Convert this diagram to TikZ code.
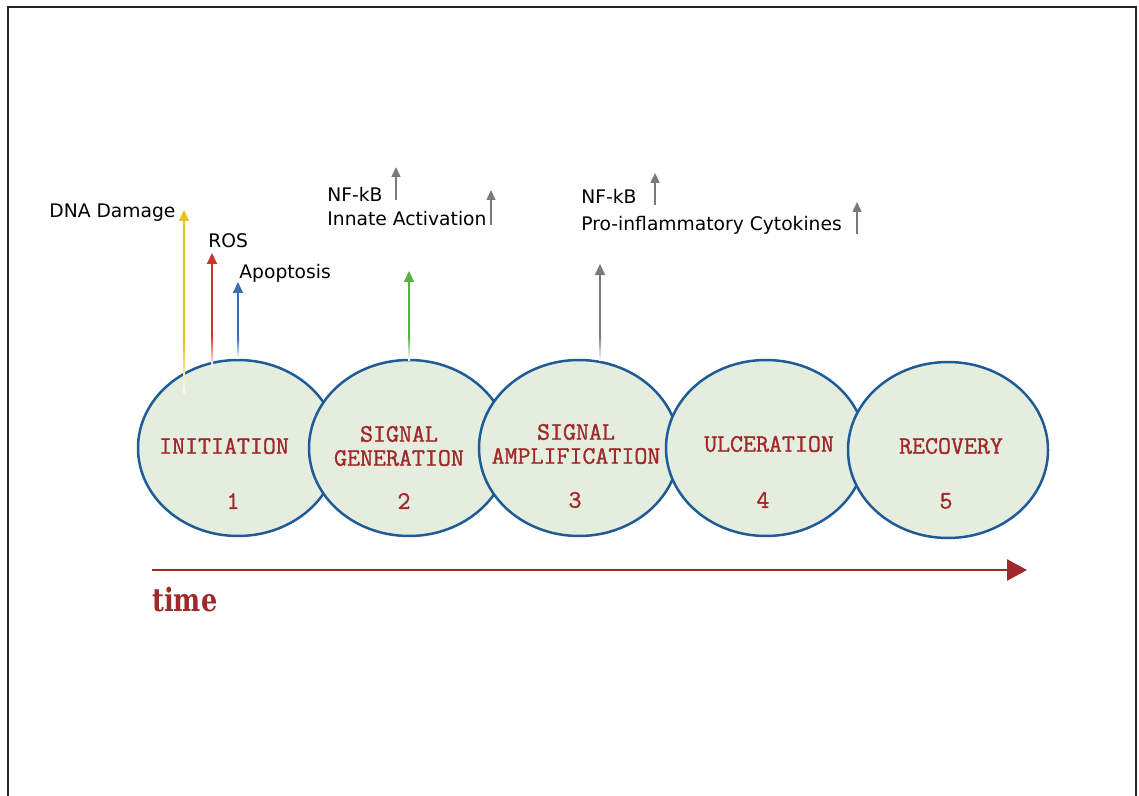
\documentclass[tikz,border=0pt]{standalone}
\usepackage{fontspec}
\usetikzlibrary{shapes.geometric,arrows.meta,calc}
\newfontfamily\labelfont{DejaVu Sans}
\newfontfamily\stagefont[FakeBold=1.2]{Latin Modern Mono}
\newfontfamily\timefont[FakeStretch=0.8]{DejaVu Serif}
\definecolor{stagefill}{HTML}{E4EDDE}
\definecolor{stageline}{HTML}{1F5B97}
\definecolor{stagered}{HTML}{A0282A}
\definecolor{dnayellow}{HTML}{E9C41C}
\definecolor{rosred}{HTML}{C9372C}
\definecolor{apoblue}{HTML}{3C6DB4}
\definecolor{nfgreen}{HTML}{5AB046}
\definecolor{nfgray}{HTML}{7B7B7B}

\tikzset{
  stage/.style={ellipse, draw=stageline, fill=stagefill, line width=1.25pt,
    minimum width=100pt, minimum height=88pt, inner sep=0pt},
  stagetxt/.style={text=stagered, font=\stagefont\bfseries\fontsize{12.6}{12}\selectfont,
    align=center, inner sep=0pt},
  sidelabel/.style={font=\labelfont\fontsize{9.35}{11}\selectfont, anchor=base west, inner sep=0pt},
  uparrow/.style={line width=1pt, -{Triangle[width=5pt,length=5.5pt]}},
  smallarrow/.style={line width=0.75pt, nfgray, -{Triangle[width=4.5pt,length=5pt]}},
  timearrow/.style={line width=1.25pt, stagered, -{Triangle[width=10.5pt,length=10pt]}},
}

\begin{document}
\begin{tikzpicture}[x=0.5pt, y=-0.5pt]
    \useasboundingbox (0,0) rectangle (1139,796);

    % Marco
    \draw[black!85, line width=1pt] (7.5,800) -- (7.5,7.5) -- (1136,7.5) -- (1136,800);

    % Elipses
    \node[stage] (ini) at (238,448) {};
    \node[stage] (gen) at (409,448) {};
    \node[stage] (amp) at (579,448) {};
    \node[stage] (ulc) at (766,448) {};
    \node[stage] (rec) at (948,450) {};

    % Textos de las etapas
    \node[stagetxt] (initxt) at (224,446) {INITIATION};
    \node[stagetxt] (gentxt) at (399,446) {SIGNAL\\GENERATION};
    \node[stagetxt] (amptxt) at (576,444) {SIGNAL\\AMPLIFICATION};
    \node[stagetxt] (ulctxt) at (769,444) {ULCERATION};
    \node[stagetxt] (rectxt) at (951,446) {RECOVERY};
    \node[stagetxt] (ininum) at (233,501) {1};
    \node[stagetxt] (gennum) at (404,501) {2};
    \node[stagetxt] (ampnum) at (575,500) {3};
    \node[stagetxt] (ulcnum) at (763,500) {4};
    \node[stagetxt] (recnum) at (946,501) {5};

    % Flechas de colores
    \coordinate (dnaend) at (184,392); \coordinate (dnamid) at (184,345); \coordinate (dnatip) at (184,210);
    \coordinate (rosend) at (212,367); \coordinate (rosmid) at (212,335); \coordinate (rostip) at (212,253);
    \coordinate (apoend) at (238,358); \coordinate (apomid) at (238,338); \coordinate (apotip) at (238,282);
    \coordinate (genend) at (409,360); \coordinate (genmid) at (409,336); \coordinate (gentip) at (409,271);
    \coordinate (ampend) at (600,360); \coordinate (ampmid) at (600,336); \coordinate (amptip) at (600,264);
    \shade[top color=dnayellow, bottom color=white] ($(dnaend)+(-1,0)$) rectangle ($(dnamid)+(1,0)$);
    \shade[top color=rosred, bottom color=white] ($(rosend)+(-1,0)$) rectangle ($(rosmid)+(1,0)$);
    \shade[top color=apoblue, bottom color=white] ($(apoend)+(-1,0)$) rectangle ($(apomid)+(1,0)$);
    \shade[top color=nfgreen, bottom color=white] ($(genend)+(-1,0)$) rectangle ($(genmid)+(1,0)$);
    \shade[top color=nfgray, bottom color=white] ($(ampend)+(-1,0)$) rectangle ($(ampmid)+(1,0)$);
    \draw[uparrow, dnayellow] (dnamid) -- (dnatip);
    \draw[uparrow, rosred] (rosmid) -- (rostip);
    \draw[uparrow, apoblue] (apomid) -- (apotip);
    \draw[uparrow, nfgreen] (genmid) -- (gentip);
    \draw[uparrow, nfgray] (ampmid) -- (amptip);

    % Etiquetas
    \node[sidelabel] (dna) at (49,218) {DNA Damage};
    \node[sidelabel] (ros) at (208,248) {ROS};
    \node[sidelabel] (apo) at (239,279) {Apoptosis};
    \node[sidelabel] (nfa) at (327,202) {NF-kB};
    \node[sidelabel] (innate) at (327,226) {Innate Activation};
    \node[sidelabel] (nfb) at (581,204) {NF-kB};
    \node[sidelabel] (cyto) at (581,231) {Pro-inflammatory Cytokines};

    % Flechas grises pequenas
    \coordinate (nfaend) at (396,200); \coordinate (nfatip) at (396,167);
    \coordinate (innend) at (491,225); \coordinate (inntip) at (491,190);
    \coordinate (nfbend) at (655,205); \coordinate (nfbtip) at (655,173);
    \coordinate (cytend) at (857,234); \coordinate (cyttip) at (857,202);
    \draw[smallarrow] (nfaend) -- (nfatip);
    \draw[smallarrow] (innend) -- (inntip);
    \draw[smallarrow] (nfbend) -- (nfbtip);
    \draw[smallarrow] (cytend) -- (cyttip);

    % Eje del tiempo
    \coordinate (t0) at (152,570);
    \coordinate (t1) at (1027,570);
    \draw[timearrow] (t0) -- (t1);
    \node[anchor=base west, inner sep=0pt, text=stagered, font=\timefont\bfseries\fontsize{16}{20}\selectfont] (time) at (152,611) {time};
\end{tikzpicture}
\end{document}
